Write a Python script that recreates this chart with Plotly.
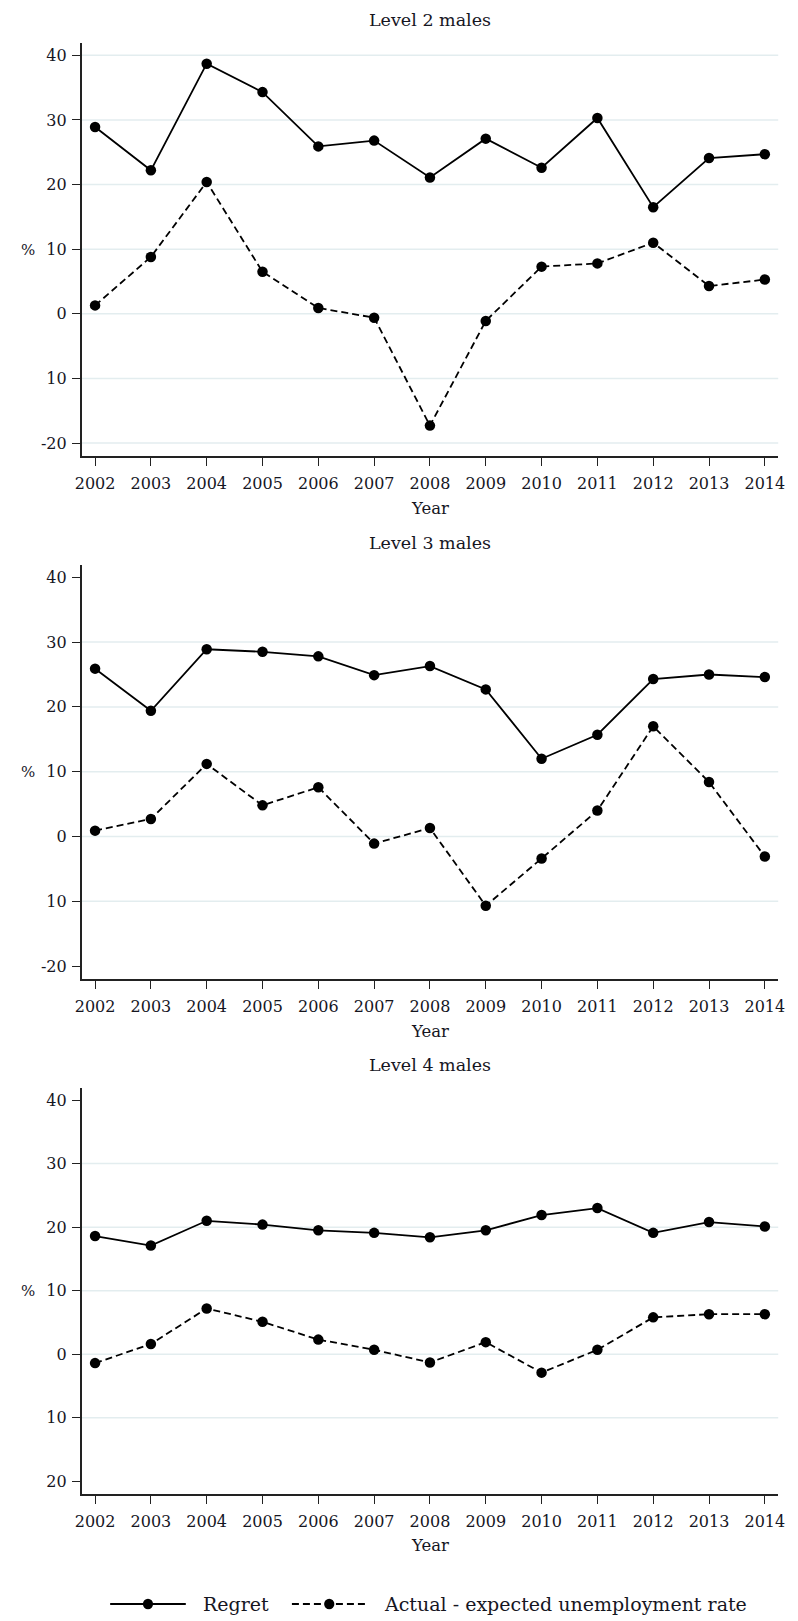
import plotly.graph_objects as go

# Survey years
years = list(range(2002, 2015))

# Regret (%) by qualification level
regret_l2 = [28.9, 22.2, 38.7, 34.3, 25.9, 26.8, 21.1, 27.1, 22.6, 30.3, 16.5, 24.1, 24.7]
regret_l3 = [25.9, 19.4, 28.9, 28.5, 27.8, 24.9, 26.3, 22.7, 12.0, 15.7, 24.3, 25.0, 24.6]
regret_l4 = [18.6, 17.1, 21.0, 20.4, 19.5, 19.1, 18.4, 19.5, 21.9, 23.0, 19.1, 20.8, 20.1]

# Actual minus expected unemployment rate (%)
gap_l2 = [1.3, 8.8, 20.4, 6.5, 0.9, -0.6, -17.3, -1.1, 7.3, 7.8, 11.0, 4.3, 5.3]
gap_l3 = [0.9, 2.7, 11.2, 4.8, 7.6, -1.1, 1.3, -10.7, -3.4, 4.0, 17.0, 8.4, -3.1]
gap_l4 = [-1.4, 1.6, 7.2, 5.1, 2.3, 0.7, -1.3, 1.9, -2.9, 0.7, 5.8, 6.3, 6.3]

panel_titles = ["Level 2 males", "Level 3 males", "Level 4 males"]
ytick_vals = [-20, -10, 0, 10, 20, 30, 40]
ytick_text = [
    ["-20", "10", "0", "10", "20", "30", "40"],
    ["-20", "10", "0", "10", "20", "30", "40"],
    ["20", "10", "0", "10", "20", "30", "40"],
]
grid_vals = [
    [-20, -10, 0, 10, 20, 30, 40],
    [-10, 0, 10, 20, 30],
    [-10, 0, 10, 20, 30],
]
legend_names = ["Regret", "Actual - expected unemployment rate"]

W, H = 798, 1621
FONT = "DejaVu Serif"
TXT = "#16161f"
GRID = "#e3edef"
LW = 1.8
DASH = "7px,4px"

# Pixel layout of each panel: (plot top, plot bottom, title y, xlabel y)
panels = [
    (43, 456, 20, 508),
    (565, 979, 543, 1031),
    (1088, 1494, 1065, 1545),
]
x_left, x_right = 76, 785


def fy(p):
    return 1 - p / H


def fx(p):
    return p / W


series = [(regret_l2, gap_l2), (regret_l3, gap_l3), (regret_l4, gap_l4)]

fig = go.Figure()
shapes = []
annotations = []

for i, ((top, bot, ty, xly), (reg, gap)) in enumerate(zip(panels, series)):
    n = "" if i == 0 else str(i + 1)
    xa, ya = "x" + n, "y" + n
    fig.add_trace(go.Scatter(
        x=years, y=reg, mode="lines+markers", xaxis=xa, yaxis=ya,
        name=legend_names[0], showlegend=False,
        line=dict(color="black", width=LW),
        marker=dict(color="black", size=10.5),
    ))
    fig.add_trace(go.Scatter(
        x=years, y=gap, mode="lines+markers", xaxis=xa, yaxis=ya,
        name=legend_names[1], showlegend=False,
        line=dict(color="black", width=LW, dash=DASH),
        marker=dict(color="black", size=10.5),
    ))
    fig.update_layout(**{
        "xaxis" + n: dict(
            domain=[fx(x_left), fx(x_right)], anchor=ya,
            range=[2001.76, 2014.24], tickmode="array", tickvals=years,
            ticktext=[str(y) for y in years],
            showline=True, linecolor="#222", linewidth=1.5,
            ticks="outside", ticklen=8, tickwidth=1.3, tickcolor="#222",
            showgrid=False, zeroline=False, ticklabelstandoff=4,
            tickfont=dict(family=FONT, size=16, color=TXT),
        ),
        "yaxis" + n: dict(
            domain=[fy(bot), fy(top)], anchor=xa,
            range=[-22.0, 41.9], tickmode="array", tickvals=ytick_vals,
            ticktext=ytick_text[i],
            showline=True, linecolor="#222", linewidth=1.5,
            ticks="outside", ticklen=8, tickwidth=1.3, tickcolor="#222",
            showgrid=False, zeroline=False, ticklabelstandoff=2,
            tickfont=dict(family=FONT, size=16, color=TXT),
        ),
    })
    for g in grid_vals[i]:
        shapes.append(dict(
            type="line", xref=xa + " domain", yref=ya, x0=0, x1=1, y0=g, y1=g,
            line=dict(color=GRID, width=1.5), layer="below",
        ))
    annotations.append(dict(
        text=panel_titles[i], xref="paper", yref="paper",
        x=fx((x_left + x_right) / 2), y=fy(ty), showarrow=False,
        xanchor="center", yanchor="middle",
        font=dict(family=FONT, size=17.5, color=TXT),
    ))
    annotations.append(dict(
        text="Year", xref="paper", yref="paper",
        x=fx((x_left + x_right) / 2), y=fy(xly), showarrow=False,
        xanchor="center", yanchor="middle",
        font=dict(family=FONT, size=16.5, color=TXT),
    ))
    annotations.append(dict(
        text="%", xref="paper", yref="paper",
        x=fx(21), y=fy((top + bot) / 2), showarrow=False,
        xanchor="center", yanchor="middle",
        font=dict(family=FONT, size=15, color=TXT),
    ))

# Legend row beneath the last panel
ly = 1604
legend_items = [
    (105, 182, 197, "solid", legend_names[0]),
    (290, 366, 382, DASH, legend_names[1]),
]
for x0, x1, tx, dash, label in legend_items:
    shapes.append(dict(
        type="line", xref="paper", yref="paper",
        x0=fx(x0), x1=fx(x1), y0=fy(ly), y1=fy(ly),
        line=dict(color="black", width=LW, dash=dash),
    ))
    cx = (x0 + x1) / 2
    shapes.append(dict(
        type="circle", xref="paper", yref="paper",
        x0=fx(cx - 5.2), x1=fx(cx + 5.2), y0=fy(ly + 5.2), y1=fy(ly - 5.2),
        fillcolor="black", line=dict(color="black", width=0),
    ))
    annotations.append(dict(
        text=label, xref="paper", yref="paper", x=fx(tx), y=fy(ly),
        showarrow=False, xanchor="left", yanchor="middle",
        font=dict(family=FONT, size=19, color=TXT),
    ))

fig.update_layout(
    width=W, height=H,
    margin=dict(l=0, r=0, t=0, b=0),
    paper_bgcolor="white", plot_bgcolor="white",
    showlegend=False,
    shapes=shapes, annotations=annotations,
)

fig.write_html("out.html")
